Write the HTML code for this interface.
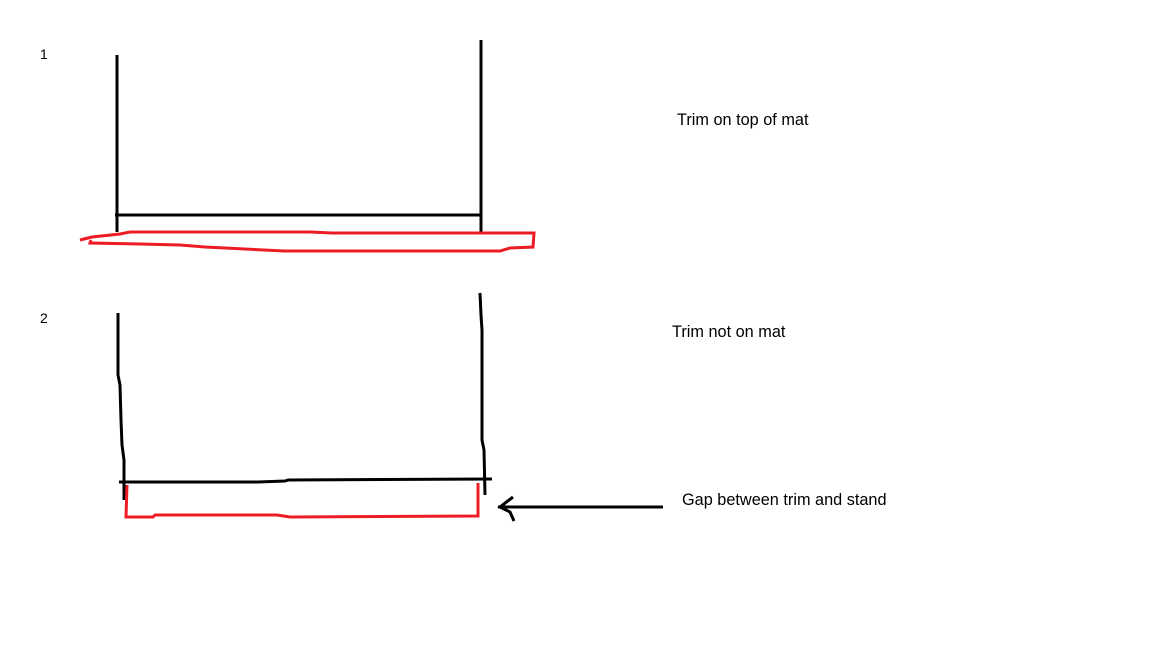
<!DOCTYPE html>
<html><head><meta charset="utf-8"><style>
html,body{margin:0;padding:0;background:#fff;width:1152px;height:648px;overflow:hidden}
svg{position:absolute;left:0;top:0}
.t{font-family:"Liberation Sans",sans-serif;font-size:16.3px;fill:#000}
.n{font-family:"Liberation Sans",sans-serif;font-size:14px;fill:#000}
</style></head><body>
<svg width="1152" height="648" viewBox="0 0 1152 648">
<g fill="none" stroke="#000" stroke-width="3" stroke-linejoin="miter">
<line x1="117" y1="55" x2="117" y2="232"/>
<line x1="481" y1="40" x2="481" y2="233"/>
<line x1="115" y1="215" x2="482" y2="215"/>
<polyline points="118,313 118,375 120,385 121,420 122,445 124,460 124,500"/>
<polyline points="480,293 481,315 482,330 482,440 484,450 485,495"/>
<polyline points="119,482 258,482 285,481 288,480 492,479"/>
<line x1="498" y1="507" x2="663" y2="507"/>
<polyline points="513,497 500,507 510,512 514,521"/>
</g>
<g fill="none" stroke="#ed1c24" stroke-width="3">
<polyline points="80,240 92,237 120,234 130,232 310,232 332,233 534,233 533,247 510,248 500,251 284,251 225,248 205,247 180,245 140,244 90,243 91,240"/>
<polyline points="127,485 126,517 153,517 155,515 277,515 290,517 478,516 478,483"/>
</g>
<text class="n" x="40" y="59">1</text>
<text class="n" x="40" y="323">2</text>
<text class="t" x="677" y="125">Trim on top of mat</text>
<text class="t" x="672" y="337">Trim not on mat</text>
<text class="t" x="682" y="505">Gap between trim and stand</text>
</svg>
</body></html>
